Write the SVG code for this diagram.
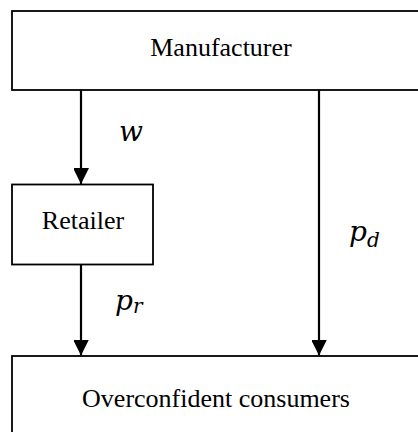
<svg xmlns="http://www.w3.org/2000/svg" width="418" height="432" viewBox="0 0 418 432">
<style>
.box{fill:#fff;stroke:#000;stroke-width:1.8}
.lbl{font-size:26px;fill:#000;text-anchor:middle}
.math{font-style:italic;font-size:28px;fill:#000}
.sub{font-size:20px}
.conn{stroke:#000;stroke-width:2.2;fill:none}
</style>
<defs>
<marker id="ah" markerUnits="userSpaceOnUse" markerWidth="16" markerHeight="15" refX="16" refY="8" orient="auto">
<path d="M0,0 L16,8 L0,16 Z" fill="#000"/>
</marker>
</defs>
<rect width="418" height="432" fill="#fff"/>
<g id="manufacturer">
<rect class="box" x="12" y="11" width="420" height="79"/>
<text class="lbl" font-family="Liberation Serif, serif" x="221" y="56">Manufacturer</text>
</g>
<g id="retailer">
<rect class="box" x="12" y="184.5" width="141" height="80"/>
<text class="lbl" font-family="Liberation Serif, serif" x="83" y="229">Retailer</text>
</g>
<g id="consumers">
<rect class="box" x="12" y="356" width="420" height="90"/>
<text class="lbl" font-family="Liberation Serif, serif" x="216" y="407">Overconfident consumers</text>
</g>
<g id="connectors">
<line class="conn" x1="81" y1="90" x2="81" y2="184" marker-end="url(#ah)"/>
<line class="conn" x1="81" y1="264.5" x2="81" y2="355.5" marker-end="url(#ah)"/>
<line class="conn" x1="319" y1="90" x2="319" y2="355.5" marker-end="url(#ah)"/>
<text class="math" font-family="DejaVu Serif, serif" x="119" y="141">w</text>
<text class="math" font-family="DejaVu Serif, serif" x="349" y="241">p<tspan class="sub" dy="6">d</tspan></text>
<text class="math" font-family="DejaVu Serif, serif" x="115" y="310">p<tspan class="sub" dy="3">r</tspan></text>
</g>
</svg>
